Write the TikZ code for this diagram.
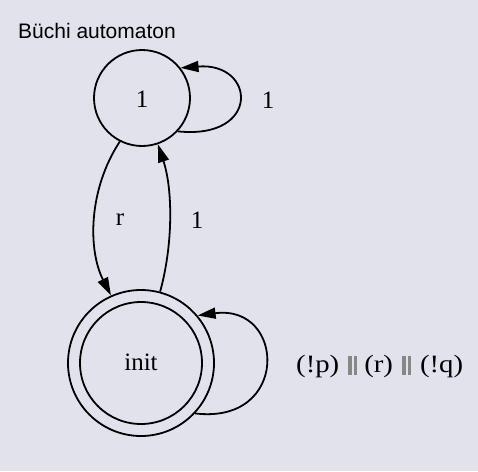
\documentclass[tikz,border=0pt]{standalone}
\usepackage{fontspec}
\setmainfont{Liberation Serif}
\setsansfont{Liberation Sans}
\usetikzlibrary{arrows.meta}
\definecolor{bgc}{RGB}{226,226,236}
\definecolor{bargray}{RGB}{135,135,135}
\newcommand{\orbars}{{\color{bargray}\rule[-3pt]{3.5pt}{19pt}\hspace{2pt}\rule[-3pt]{3.5pt}{19pt}}}
\newcommand{\wtxt}[1]{\scalebox{1.15}[1]{#1}}
\begin{document}
\begin{tikzpicture}[x=1pt,y=-1pt,
  state/.style={circle,draw=black,line width=1.8pt,inner sep=0pt},
  edge/.style={draw=black,line width=1.8pt,-{Triangle[length=18pt,width=11pt]}},
  lbl/.style={font=\fontsize{25}{28}\selectfont,inner sep=0pt},
  title/.style={font=\sffamily\fontsize{21}{25}\selectfont,inner sep=0pt}]
\fill[bgc] (0,0) rectangle (478,471);
\useasboundingbox (0,0) rectangle (478,471);
\node[title,anchor=base west] (ttl) at (18,38) {Büchi automaton};
\node[state,minimum size=96pt] (n1) at (142,98) {};
\node[lbl] (n1l) at (142,99) {1};
\node[state,minimum size=146pt] (init) at (141,363) {};
\node[state,minimum size=122pt] (initin) at (141,363) {};
\node[lbl] (initl) at (141,362) {init};
% self loop on 1
\draw[edge] (n1.-43) .. controls (261,140) and (256,62) .. (n1.38);
\node[lbl] (l1) at (268,100) {1};
% r edge
\draw[edge] (n1.-117) .. controls (88,190) and (88,250) .. (init.114);
\node[lbl] (lr) at (120,220) {r};
% 1 edge back
\draw[edge] (init.75) .. controls (173,245) and (173,190) .. (n1.-71);
\node[lbl] (l2) at (197,220) {1};
% self loop on init
\draw[edge] (init.-43) .. controls (290,425) and (286,304) .. (init.40);
\node[lbl,anchor=west] (l3) at (296,366) {\wtxt{(!p)}\hspace{9pt}\orbars\hspace{7pt}\wtxt{(r)}\hspace{9pt}\orbars\hspace{9pt}\wtxt{(!q)}};
\end{tikzpicture}
\end{document}
